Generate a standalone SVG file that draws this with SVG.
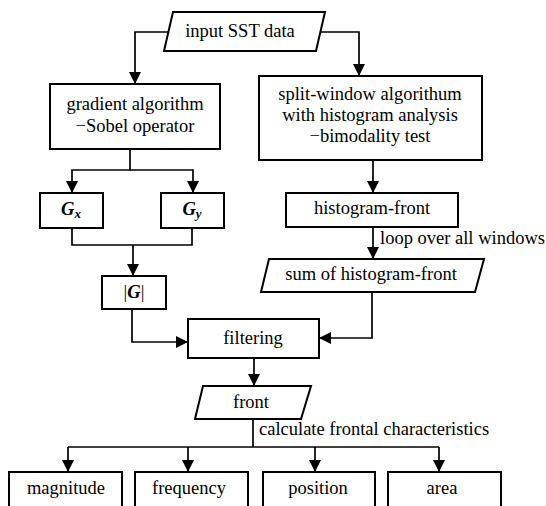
<svg xmlns="http://www.w3.org/2000/svg" width="546" height="506" viewBox="0 0 546 506">
<defs>
<style>
.box{fill:#fff;stroke:#000;stroke-width:2}
.c{fill:none;stroke:#000;stroke-width:1.7}
.t{font-family:'Liberation Serif','DejaVu Serif',serif;font-size:18.5px;fill:#000}
.m{text-anchor:middle}
.bi{font-weight:bold;font-style:italic}
</style>
<marker id="a" markerUnits="userSpaceOnUse" markerWidth="12" markerHeight="12" viewBox="0 0 12 12" refX="12" refY="6" orient="auto">
<path d="M0,0 L12,6 L0,12 Z" fill="#000"/>
</marker>
</defs>
<rect width="546" height="506" fill="#fff"/>
<g id="connectors">
<polyline class="c" points="169,32 135,32 135,84" marker-end="url(#a)"/>
<polyline class="c" points="321,32 359,32 359,76" marker-end="url(#a)"/>
<polyline class="c" points="130,149 130,170 72,170 72,193" marker-end="url(#a)"/>
<polyline class="c" points="130,170 193,170 193,193" marker-end="url(#a)"/>
<polyline class="c" points="72,228 72,245 192,245 192,228"/>
<line class="c" x1="133" y1="245" x2="133" y2="276" marker-end="url(#a)"/>
<polyline class="c" points="132,309 132,342 188,342" marker-end="url(#a)"/>
<line class="c" x1="373" y1="160" x2="373" y2="193" marker-end="url(#a)"/>
<line class="c" x1="373" y1="227" x2="373" y2="259" marker-end="url(#a)"/>
<polyline class="c" points="372,292 372,338 319,338" marker-end="url(#a)"/>
<line class="c" x1="254" y1="358" x2="254" y2="386" marker-end="url(#a)"/>
<polyline class="c" points="253,419 253,447"/>
<line class="c" x1="68" y1="447" x2="439" y2="447"/>
<line class="c" x1="68" y1="447" x2="68" y2="472" marker-end="url(#a)"/>
<line class="c" x1="188" y1="447" x2="188" y2="472" marker-end="url(#a)"/>
<line class="c" x1="315" y1="447" x2="315" y2="472" marker-end="url(#a)"/>
<line class="c" x1="439" y1="447" x2="439" y2="472" marker-end="url(#a)"/>
<text class="t" x="380" y="244">loop over all windows</text>
<text class="t" x="259" y="435">calculate frontal characteristics</text>
</g>
<g id="input">
<polygon class="box" points="173,12 325,12 316,51 164,51"/>
<text class="t m" x="240" y="37">input SST data</text>
</g>
<g id="gradient">
<rect class="box" x="50" y="84" width="170" height="65"/>
<text class="t m" x="135" y="110">gradient algorithm</text>
<text class="t m" x="135" y="132">−Sobel operator</text>
</g>
<g id="split">
<rect class="box" x="259" y="76" width="223" height="84"/>
<text class="t m" x="370" y="100">split-window algorithum</text>
<text class="t m" x="370" y="121">with histogram analysis</text>
<text class="t m" x="370" y="142">−bimodality test</text>
</g>
<g id="gx">
<rect class="box" x="40" y="193" width="63" height="35"/>
<text class="t m" x="71" y="215"><tspan class="bi">G</tspan><tspan class="bi" font-size="13" dy="3">x</tspan></text>
</g>
<g id="gy">
<rect class="box" x="161" y="193" width="63" height="35"/>
<text class="t m" x="192" y="215"><tspan class="bi">G</tspan><tspan class="bi" font-size="13" dy="3">y</tspan></text>
</g>
<g id="absg">
<rect class="box" x="102" y="276" width="64" height="33"/>
<text class="t m" x="134" y="298">|<tspan class="bi">G</tspan>|</text>
</g>
<g id="histfront">
<rect class="box" x="286" y="193" width="172" height="34"/>
<text class="t m" x="372" y="214">histogram-front</text>
</g>
<g id="sum">
<polygon class="box" points="269,259 484,259 475,292 261,292"/>
<text class="t m" x="371" y="280">sum of histogram-front</text>
</g>
<g id="filtering">
<rect class="box" x="188" y="319" width="131" height="39"/>
<text class="t m" x="253" y="344">filtering</text>
</g>
<g id="front">
<polygon class="box" points="203,386 311,386 301,419 195,419"/>
<text class="t m" x="251" y="408">front</text>
</g>
<g id="magnitude">
<rect class="box" x="9" y="472" width="113" height="40"/>
<text class="t m" x="66" y="494">magnitude</text>
</g>
<g id="frequency">
<rect class="box" x="135" y="472" width="113" height="40"/>
<text class="t m" x="189" y="494">frequency</text>
</g>
<g id="position">
<rect class="box" x="263" y="472" width="112" height="40"/>
<text class="t m" x="318" y="494">position</text>
</g>
<g id="area">
<rect class="box" x="388" y="472" width="113" height="40"/>
<text class="t m" x="442" y="494">area</text>
</g>
</svg>
